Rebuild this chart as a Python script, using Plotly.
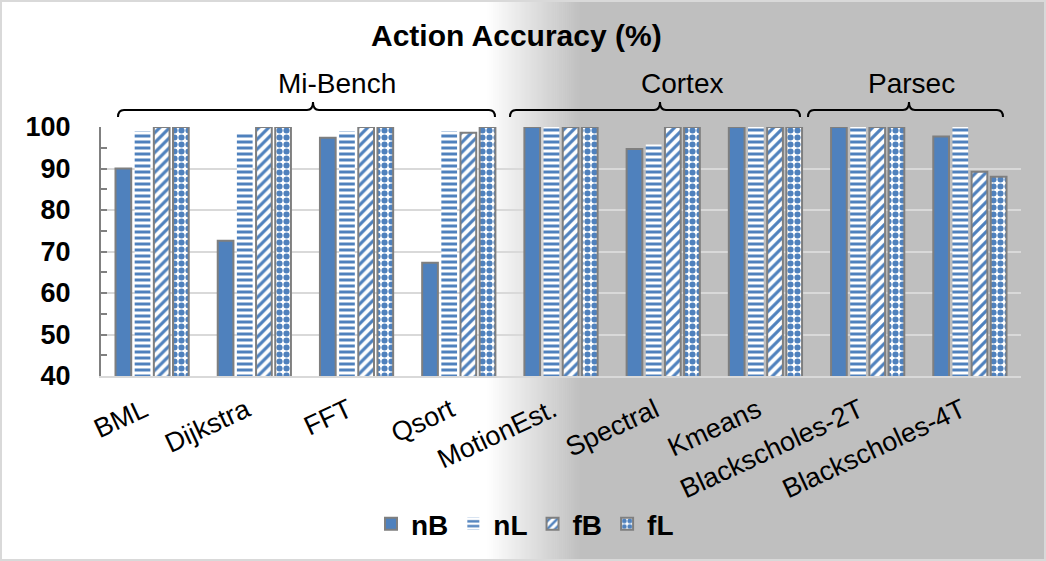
import plotly.graph_objects as go

# ---------------- data ----------------
categories = ["BML", "Dijkstra", "FFT", "Qsort", "MotionEst.", "Spectral",
              "Kmeans", "Blackscholes-2T", "Blackscholes-4T"]
nB = [90.0, 72.6, 97.4, 67.3, 100.0, 94.7, 100.0, 100.0, 97.7]
nL = [99.0, 98.7, 99.0, 99.0, 100.0, 95.8, 100.0, 100.0, 100.0]
fB = [100.0, 100.0, 100.0, 98.6, 100.0, 100.0, 100.0, 100.0, 89.2]
fL = [100.0, 100.0, 100.0, 100.0, 100.0, 100.0, 100.0, 100.0, 88.0]
series_names = ["nB", "nL", "fB", "fL"]
y_ticks = [40, 50, 60, 70, 80, 90, 100]
title_text = "Action Accuracy (%)"
group_labels = ["Mi-Bench", "Cortex", "Parsec"]

# ---------------- geometry ----------------
W, H = 1046, 561
ML, MR, MT, MB = 101, 25, 127, 185
PW, PH = W - ML - MR, H - MT - MB

def px(x):
    return (x - ML) / PW

def py(y):
    return (H - MB - y) / PH

BLUE = "#4f81bd"
EDGE = "#7f7f7f"
FONT = "Liberation Sans, Arial, sans-serif"

fig = go.Figure()

fig.add_trace(go.Bar(name=series_names[0], x=categories, y=nB,
                     marker=dict(color=BLUE, line=dict(color=EDGE, width=2))))
fig.add_trace(go.Bar(name=series_names[1], x=categories, y=nL,
                     marker=dict(color="white",
                                 pattern=dict(shape="-", fgcolor=BLUE, bgcolor="white",
                                              size=6, solidity=0.5, fillmode="replace"),
                                 line=dict(width=0))))
fig.add_trace(go.Bar(name=series_names[2], x=categories, y=fB,
                     marker=dict(color="white",
                                 pattern=dict(shape="/", fgcolor=BLUE, bgcolor="white",
                                              size=7, solidity=0.45, fillmode="replace"),
                                 line=dict(color=EDGE, width=2))))
fig.add_trace(go.Bar(name=series_names[3], x=categories, y=fL,
                     marker=dict(color="white",
                                 pattern=dict(shape=".", fgcolor=BLUE, bgcolor="white",
                                              size=7, solidity=0.6, fillmode="replace"),
                                 line=dict(color=EDGE, width=2))))

shapes = []
# background gradient (white -> grey)
g0, g1 = 487, 580
n = 47
step = (g1 - g0) / n
for i in range(n):
    v = int(round(255 - (255 - 191) * (i + 0.5) / n))
    c = f"rgb({v},{v},{v})"
    shapes.append(dict(type="rect", xref="paper", yref="paper", layer="below",
                       x0=px(g0 + i * step), x1=px(g0 + (i + 1) * step + 0.6),
                       y0=py(H), y1=py(0), fillcolor=c, line=dict(width=0)))
shapes.append(dict(type="rect", xref="paper", yref="paper", layer="below",
                   x0=px(g1), x1=px(W), y0=py(H), y1=py(0),
                   fillcolor="#bfbfbf", line=dict(width=0)))
# outer border
shapes.append(dict(type="rect", xref="paper", yref="paper",
                   x0=px(1), x1=px(W - 1), y0=py(H - 1), y1=py(1),
                   line=dict(color="#d9d9d9", width=2), fillcolor="rgba(0,0,0,0)"))

# braces
def brace(x1, x2, xt, yb=117, ym=110, yt=102, r=6):
    X = lambda v: f"{px(v):.5f}"
    Y = lambda v: f"{py(v):.5f}"
    path = (f"M{X(x1)},{Y(yb)} Q{X(x1)},{Y(ym)} {X(x1 + r)},{Y(ym)} "
            f"L{X(xt - r)},{Y(ym)} Q{X(xt)},{Y(ym)} {X(xt)},{Y(yt)} "
            f"Q{X(xt)},{Y(ym)} {X(xt + r)},{Y(ym)} "
            f"L{X(x2 - r)},{Y(ym)} Q{X(x2)},{Y(ym)} {X(x2)},{Y(yb)}")
    return dict(type="path", xref="paper", yref="paper", path=path,
                line=dict(color="black", width=2))

brace_spans = [(118, 495, 313), (510, 800, 660), (808, 1003, 909)]
label_x = [337, 682, 911]
for (a, b, t) in brace_spans:
    shapes.append(brace(a, b, t))

annotations = [dict(text=f"<b>{title_text}</b>", xref="paper", yref="paper",
                    x=px(516), y=py(36), showarrow=False,
                    xanchor="center", yanchor="middle",
                    font=dict(size=30, color="black", family=FONT))]
for lab, lx in zip(group_labels, label_x):
    annotations.append(dict(text=lab, xref="paper", yref="paper",
                            x=px(lx), y=py(83), showarrow=False,
                            xanchor="center", yanchor="middle",
                            font=dict(size=28, color="black", family=FONT)))

fig.update_layout(
    width=W, height=H,
    margin=dict(l=ML, r=MR, t=MT, b=MB, pad=0),
    paper_bgcolor="white",
    plot_bgcolor="rgba(0,0,0,0)",
    barmode="group", bargap=0.25, bargroupgap=0.18,
    font=dict(family=FONT, color="black"),
    shapes=shapes, annotations=annotations,
    showlegend=True,
    legend=dict(orientation="h", x=px(525), xanchor="center",
                y=py(524), yanchor="middle", bgcolor="rgba(0,0,0,0)",
                font=dict(size=28, family=FONT, color="black", weight="bold"),
                itemwidth=30, traceorder="normal"),
    xaxis=dict(type="category", showline=True, linecolor="#d9d9d9", linewidth=2,
               showgrid=False, ticks="", tickangle=-25, automargin=False,
               ticklabelstandoff=6, ticklabelshift=-8,
               tickfont=dict(size=27, family=FONT, color="black")),
    yaxis=dict(range=[40, 100], tickvals=y_ticks, showgrid=True,
               gridcolor="#d9d9d9", gridwidth=1.5, zeroline=False,
               showline=True, linecolor="#808080", linewidth=2,
               ticks="inside", ticklen=6, tickcolor="#808080", tickwidth=2,
               minor=dict(ticks="inside", dtick=5, ticklen=6, tickcolor="#808080",
                          tickwidth=2, showgrid=False),
               ticklabelstandoff=23, automargin=False,
               tickfont=dict(size=27, family=FONT, color="black", weight="bold")),
)

fig.write_html("out.html", config={"displayModeBar": False},
               post_script="document.body.style.margin='0px';document.body.style.overflow='hidden';")
